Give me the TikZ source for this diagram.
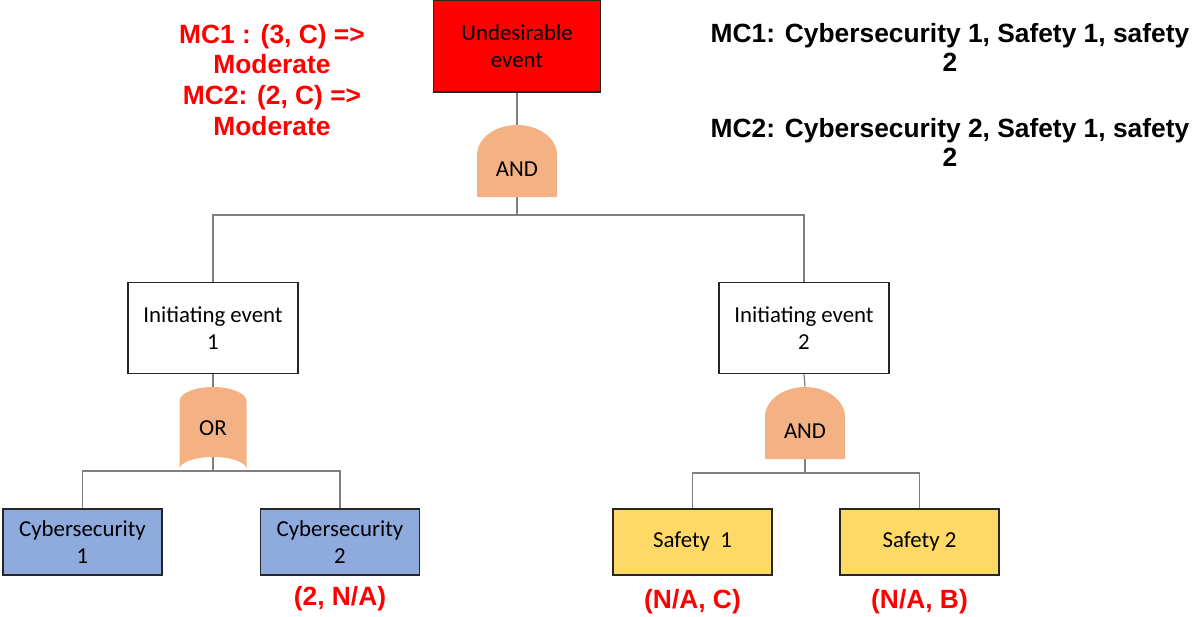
\documentclass[tikz,border=0pt]{standalone}
\usepackage{fontspec}
\setmainfont{Carlito}
\newfontfamily\arialfont{Liberation Sans}
\usetikzlibrary{positioning,backgrounds}
\definecolor{uered}{HTML}{FF0000}
\definecolor{gateorange}{HTML}{F4B183}
\definecolor{cyberblue}{HTML}{8FAADC}
\definecolor{safetyyellow}{HTML}{FFD966}
\definecolor{wiregray}{HTML}{7F7F7F}
\tikzset{
	evbox/.style={draw=black!85, line width=1pt, minimum width=3.4cm, minimum height=1.82cm, align=center, inner sep=2pt, font=\fontsize{13}{15.4}\selectfont},
	leafbox/.style={evbox, minimum width=3.18cm, minimum height=1.32cm},
	gatetext/.style={inner sep=0pt, font=\fontsize{13}{15.4}\selectfont},
	andgate/.style={gatetext, text height=0.6cm, text depth=0cm, minimum width=1.6cm, minimum height=1.44cm,
		path picture={\fill[gateorange] (path picture bounding box.south west) -- ++(0,0.84) arc[start angle=180, end angle=0, x radius=0.8, y radius=0.6] -- (path picture bounding box.south east) -- cycle;}},
	orgate/.style={gatetext, minimum width=1.34cm, minimum height=1.64cm,
		path picture={\fill[gateorange] (path picture bounding box.south west) -- ++(0,1.36) arc[start angle=180, end angle=0, x radius=0.67, y radius=0.28] -- (path picture bounding box.south east) arc[start angle=0, end angle=180, x radius=0.67, y radius=0.24] -- cycle;}},
	wire/.style={draw=wiregray, line width=0.7pt},
	redtag/.style={text=uered, inner sep=0pt, align=center, font=\arialfont\bfseries\fontsize{15}{17.6}\selectfont},
	mctext/.style={inner sep=0pt, align=center, font=\arialfont\bfseries\fontsize{15}{16.5}\selectfont}
}

\begin{document}
\begin{tikzpicture}
			%%%%% START %%%%%
			\useasboundingbox (0,0) rectangle (23.9,-12.32);
			
			% top event and its gate
			\node[evbox, fill=uered, minimum width=3.34cm, minimum height=1.84cm] (ue) at (10.34,-0.92) {Undesirable\\event};
			\node[andgate] (g0) at (10.34,-3.22) {AND};
			\coordinate (j0) at (10.34,-4.3);
			
			% initiating events
			\node[evbox] (ie1) at (4.26,-6.56) {Initiating event\\1};
			\node[evbox] (ie2) at (16.08,-6.56) {Initiating event\\2};
			
			\node[orgate] (g1) at (4.26,-8.56) {OR};
			\coordinate (j1) at (4.26,-9.42);
			\node[andgate] (g2) at (16.1,-8.46) {AND};
			\coordinate (j2) at (16.1,-9.46);
			
			% basic events
			\node[leafbox, fill=cyberblue] (c1) at (1.65,-10.84) {Cybersecurity\\1};
			\node[leafbox, fill=cyberblue] (c2) at (6.8,-10.84) {Cybersecurity\\2};
			\node[leafbox, fill=safetyyellow] (s1) at (13.85,-10.84) {Safety\ \ 1};
			\node[leafbox, fill=safetyyellow] (s2) at (18.39,-10.84) {Safety 2};
			
			\node[redtag, below=0.2cm of c2] (c2r) {(2, N/A)};
			\node[redtag, below=0.26cm of s1] (s1r) {(N/A, C)};
			\node[redtag, below=0.26cm of s2] (s2r) {(N/A, B)};
			
			% minimal cut sets
			\node[redtag] (mcrisk) at (5.44,-1.6) {MC1 : (3, C) =>\\Moderate\\MC2: (2, C) =>\\Moderate};
			\node[mctext] (mc1) at (19.0,-0.95) {MC1: Cybersecurity 1, Safety 1, safety\\2};
			\node[mctext] (mc2) at (19.0,-2.84) {MC2: Cybersecurity 2, Safety 1, safety\\2};
			
			% wires
			\begin{scope}[on background layer]
				\draw[wire] (ue.south) -- (g0.north);
				\draw[wire] (g0.south) -- (j0);
				\draw[wire] (ie1.north) |- (j0) -| (ie2.north);
				
				\draw[wire] (ie1.south) -- (j1);
				\draw[wire] (c1.north) |- (j1) -| (c2.north);
				
				\draw[wire] (ie2.south) -- (g2.north);
				\draw[wire] (g2.south) -- (j2);
				\draw[wire] (s1.north) |- (j2) -| (s2.north);
			\end{scope}
			
			%%%%% END %%%%%
\end{tikzpicture}
\end{document}
